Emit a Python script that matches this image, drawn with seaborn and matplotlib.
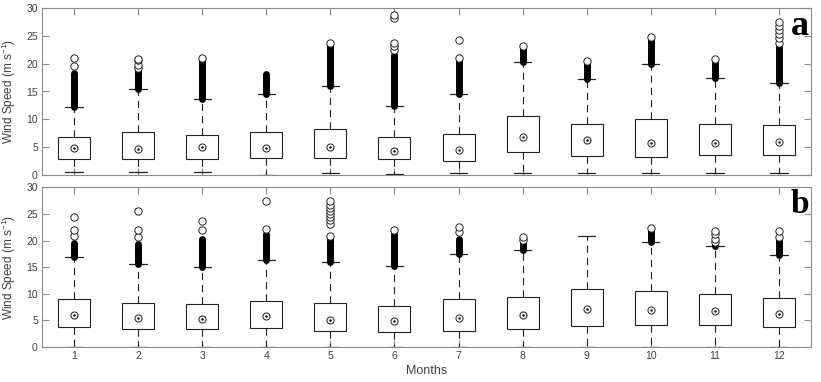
import numpy as np
import pandas as pd
import matplotlib
matplotlib.use("Agg")
import matplotlib.pyplot as plt
import seaborn as sns

# ---------------- data ----------------
months = [1, 2, 3, 4, 5, 6, 7, 8, 9, 10, 11, 12]
month_labels = ["1", "2", "3", "4", "5", "6", "7", "8", "9", "10", "11", "12"]

# panel a
a_wlo = [0.5, 0.5, 0.5, 0.0, 0.3, 0.2, 0.3, 0.3, 0.4, 0.4, 0.3, 0.4]
a_q1 = [2.9, 2.8, 2.9, 3.0, 3.0, 2.8, 2.6, 4.1, 3.5, 3.3, 3.6, 3.6]
a_med = [4.8, 4.7, 5.0, 4.8, 5.1, 4.3, 4.5, 6.9, 6.2, 5.8, 5.8, 5.9]
a_q3 = [6.8, 7.8, 7.1, 7.7, 8.2, 6.8, 7.4, 10.6, 9.1, 10.1, 9.1, 8.9]
a_whi = [12.2, 15.4, 13.6, 14.6, 16.0, 12.4, 14.6, 20.3, 17.2, 19.9, 17.4, 16.5]
a_dense_top = [18.3, 19.4, 20.8, 18.2, 23.3, 21.6, 20.8, 22.8, 20.2, 24.6, 20.6, 23.0]
a_outliers = {
    1: [19.5, 21.1],
    2: [19.2, 19.8, 20.6, 20.8],
    3: [21.0],
    4: [],
    5: [23.7],
    6: [22.5, 23.1, 23.8, 28.2, 28.8],
    7: [21.0, 24.3],
    8: [23.2],
    9: [20.4],
    10: [24.8],
    11: [20.8],
    12: [23.8, 24.6, 25.3, 26.0, 26.7, 27.4],
}

# panel b
b_wlo = [0.0, 0.0, 0.0, 0.0, 0.0, 0.0, 0.0, 0.0, 0.0, 0.0, 0.0, 0.0]
b_q1 = [3.8, 3.3, 3.3, 3.5, 3.1, 2.8, 3.1, 3.4, 4.0, 4.1, 4.1, 3.8]
b_med = [6.1, 5.5, 5.3, 5.8, 5.1, 4.8, 5.5, 6.0, 7.2, 6.9, 6.8, 6.3]
b_q3 = [9.1, 8.3, 8.0, 8.7, 8.3, 7.8, 9.0, 9.4, 10.9, 10.5, 10.0, 9.3]
b_whi = [16.9, 15.6, 15.1, 16.4, 16.0, 15.3, 17.5, 18.2, 20.8, 19.8, 19.0, 17.3]
b_dense_top = [19.5, 19.4, 20.4, 21.2, 20.4, 21.3, 20.4, 19.5, np.nan, 22.0, 19.4, 20.1]
b_outliers = {
    1: [20.9, 22.1, 24.4],
    2: [20.7, 22.0, 25.5],
    3: [22.1, 23.7],
    4: [22.2, 27.4],
    5: [20.8, 23.2, 23.8, 24.4, 25.1, 25.5, 26.1, 26.7, 27.5],
    6: [22.0],
    7: [21.7, 22.5],
    8: [20.1, 20.6],
    9: [],
    10: [22.3],
    11: [19.8, 20.4, 21.2, 21.8],
    12: [20.7, 21.8],
}

# ---------------- style ----------------
sns.set_style("ticks")
plt.rcParams["font.family"] = ["Liberation Sans", "DejaVu Sans"]
plt.rcParams["mathtext.fontset"] = "custom"
plt.rcParams["mathtext.rm"] = "Liberation Sans"

AX_GRAY = "#8c8c8c"
TXT = "#404040"

fig = plt.figure(figsize=(8.21, 3.82), dpi=100)
ax_a = fig.add_axes([42 / 821, 1 - 175 / 382, (811 - 42) / 821, (175 - 8) / 382])
ax_b = fig.add_axes([42 / 821, 1 - 347 / 382, (811 - 42) / 821, (347 - 187.5) / 382])


def draw_panel(ax, wlo, q1, med, q3, whi, dense_top, outliers, letter, letter_size):
    # five summary values per month -> whis=(0,100) reproduces box & whiskers exactly
    rows = []
    for m, a, b, c, d, e in zip(months, wlo, q1, med, q3, whi):
        for v in (a, b, c, d, e):
            rows.append({"month": m, "speed": v})
    df = pd.DataFrame(rows)
    sns.boxplot(
        data=df, x="month", y="speed", native_scale=True, width=0.5,
        whis=(0, 100), showfliers=False, color="white", linecolor="black",
        linewidth=0.8, saturation=1, ax=ax,
        boxprops={"facecolor": "white", "edgecolor": "#222222", "linewidth": 0.8},
        whiskerprops={"color": "#222222", "linewidth": 0.8, "linestyle": (0, (6.5, 4.5))},
        capprops={"color": "#222222", "linewidth": 0.9},
        medianprops={"linewidth": 0, "alpha": 0},
        capwidths=0.27,
    )
    # dense stacks of overlapping outlier circles
    ax.vlines(months, whi, dense_top, colors="black", linewidth=5.0,
              capstyle="round", zorder=3)
    # isolated outliers
    ox, oy = [], []
    for m in months:
        for v in outliers[m]:
            ox.append(m)
            oy.append(v)
    sns.scatterplot(x=ox, y=oy, marker="o", s=28, facecolor="white",
                    edgecolor="#222222", linewidth=0.7, ax=ax, zorder=4, legend=False)
    # median "target" marker
    sns.scatterplot(x=months, y=med, marker="o", s=26, facecolor="white",
                    edgecolor="#333333", linewidth=0.8, ax=ax, zorder=5, legend=False)
    sns.scatterplot(x=months, y=med, marker="o", s=3, color="black",
                    linewidth=0, ax=ax, zorder=6, legend=False)

    ax.set_xlim(0.5, 12.5)
    ax.set_ylim(0, 30)
    ax.set_yticks([0, 5, 10, 15, 20, 25, 30])
    ax.set_xticks(months)
    ax.set_xticklabels(month_labels)
    ax.tick_params(direction="in", top=True, right=True, length=5, width=0.8,
                   color=AX_GRAY, labelcolor=TXT, labelsize=7.5, pad=3)
    for sp in ax.spines.values():
        sp.set_visible(True)
        sp.set_color(AX_GRAY)
        sp.set_linewidth(0.8)
    ax.set_xlabel("")
    ax.set_ylabel("Wind Speed (m s$^{-1}$)", fontsize=8.5, color=TXT, labelpad=6)
    ax.text(0.997, 0.99, letter, transform=ax.transAxes, ha="right", va="top",
            fontsize=letter_size, fontweight="bold", family="Liberation Serif",
            color="black", zorder=10)


draw_panel(ax_a, a_wlo, a_q1, a_med, a_q3, a_whi, a_dense_top, a_outliers, "a", 26)
draw_panel(ax_b, b_wlo, b_q1, b_med, b_q3, b_whi, b_dense_top, b_outliers, "b", 24)

ax_a.tick_params(labelbottom=False)
ax_b.set_xlabel("Months", fontsize=9, color=TXT, labelpad=3)

fig.savefig("out.png", dpi=100)
